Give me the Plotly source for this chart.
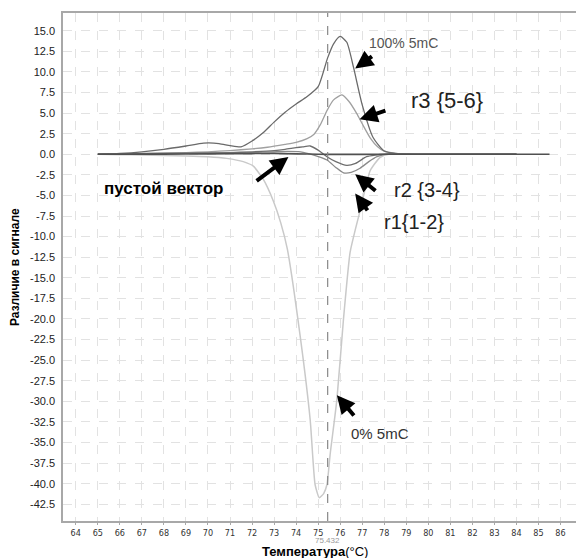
import plotly.graph_objects as go

# ---------------- data ----------------
x_100 = [65, 66, 67, 68, 69, 69.8, 70.5, 71, 71.5, 72, 72.5, 73, 73.5, 74, 74.5, 75, 75.43, 75.7, 76, 76.3, 76.6, 77, 77.5, 78, 78.5, 79, 80, 81, 82, 83, 84]
y_100 = [0, 0.1, 0.3, 0.6, 1.0, 1.35, 1.3, 1.05, 0.9, 1.6, 2.6, 3.9, 5.1, 6.1, 7.0, 8.2, 11.7, 13.4, 14.3, 13.6, 10.6, 6.0, 2.0, 0.4, 0.1, 0.05, 0, 0, 0, 0, 0]

x_r3 = [65, 67, 69, 70, 71, 72, 72.7, 73.5, 74, 74.5, 74.8, 75.1, 75.4, 75.7, 76.08, 76.4, 76.76, 77.0, 77.36, 77.7, 77.97, 78.5, 79, 80, 82, 84]
y_r3 = [0, 0.1, 0.2, 0.3, 0.45, 0.65, 0.85, 1.2, 1.45, 1.9, 2.4, 3.6, 5.3, 6.6, 7.2, 6.4, 4.9, 3.7, 2.0, 0.9, 0.4, 0.1, 0, 0, 0, 0]

x_r2a = [65, 68, 71, 72, 73, 73.5, 74, 74.3, 74.64, 75.0, 75.4, 75.8, 76.3, 76.7, 77.2, 77.6, 78, 79, 80, 82, 84]
y_r2a = [0, 0.1, 0.2, 0.3, 0.45, 0.6, 0.8, 0.9, 1.0, 0.5, -0.3, -0.9, -1.35, -1.1, -0.3, -0.1, 0, 0, 0, 0, 0]

x_r2b = [65, 68, 71, 72, 73, 73.6, 74.2, 74.8, 75.4, 75.8, 76.15, 76.5, 76.9, 77.3, 77.67, 78.3, 79, 80, 82, 84]
y_r2b = [0, 0.1, 0.15, 0.2, 0.3, 0.35, 0.3, -0.1, -0.7, -1.6, -2.25, -2.2, -1.7, -0.9, -0.3, 0.1, 0, 0, 0, 0]

x_0 = [65, 66, 67, 68, 69, 70, 70.85, 71.6, 72.06, 72.5, 72.97, 73.3, 73.6, 74.18, 74.64, 74.86, 75.05, 75.25, 75.4, 75.55, 75.85, 76.15, 76.45, 76.7, 76.9, 77.36, 77.8, 78.2, 79, 80]
y_0 = [0, -0.05, -0.1, -0.15, -0.2, -0.3, -0.5, -0.9, -1.45, -3.0, -5.7, -8.3, -11.5, -22.0, -32.3, -40.1, -41.7, -41.2, -40.1, -36.3, -29.8, -20.0, -11.9, -9.0, -6.9, -2.0, -0.4, 0, 0, 0]

x_empty = [65, 68, 70, 72, 73, 74, 75, 76, 78, 80, 82, 84, 85.5]
y_empty = [0, 0.02, 0.05, 0.08, 0.1, 0.05, 0, -0.02, 0, 0, 0, 0, 0]

marker_temp = 75.432
x_tick_vals = list(range(64, 88))
y_tick_vals = [15.0 - 2.5 * i for i in range(24)]

# ---------------- figure ----------------
fig = go.Figure()

def add_curve(xs, ys, color, width=1.3, smooth=0.6):
    fig.add_trace(go.Scatter(x=xs, y=ys, mode="lines",
                             line=dict(color=color, width=width, shape="spline", smoothing=smooth),
                             showlegend=False, hoverinfo="skip"))

add_curve(x_0, y_0, "#c9c9c9", 1.5, 0.5)
add_curve(x_r3, y_r3, "#a0a0a0", 1.3)
add_curve(x_r2b, y_r2b, "#8a8a8a", 1.3)
add_curve(x_r2a, y_r2a, "#6e6e6e", 1.3)
add_curve(x_100, y_100, "#6a6a6a", 1.3)
add_curve(x_empty, y_empty, "#505050", 1.6)

# vertical dashed marker
fig.add_shape(type="line", x0=marker_temp, x1=marker_temp, y0=0, y1=1, xref="x", yref="paper",
              line=dict(color="#888888", width=1.2, dash="dash"))

FONT = "Liberation Sans, Arial, sans-serif"

annotations = [
    dict(x=78.88, y=13.52, text="100% 5mC", font=dict(size=14, color="#555555")),
    dict(x=80.85, y=6.56, text="r3 {5-6}", font=dict(size=22, color="#222222")),
    dict(x=79.94, y=-4.37, text="r2 {3-4}", font=dict(size=20, color="#222222")),
    dict(x=79.33, y=-8.22, text="r1{1-2}", font=dict(size=20, color="#222222")),
    dict(x=67.97, y=-4.17, text="<b>пустой вектор</b>", font=dict(size=17, color="#000000")),
    dict(x=77.82, y=-33.86, text="0% 5mC", font=dict(size=15, color="#333333")),
]
for a in annotations:
    a.update(xref="x", yref="y", showarrow=False, xanchor="center", yanchor="middle")
    a["font"]["family"] = FONT
    fig.add_annotation(**a)

# arrows: (head_x, head_y, tail_x, tail_y)
arrows = [
    (76.68, 10.41, 77.51, 12.03),
    (76.88, 4.25, 78.12, 5.35),
    (73.65, -0.33, 72.14, -3.36),
    (76.68, -2.43, 77.67, -4.58),
    (76.68, -4.77, 77.29, -7.0),
    (75.85, -29.27, 76.68, -31.9),
]
for hx, hy, tx, ty in arrows:
    fig.add_annotation(x=hx, y=hy, ax=tx, ay=ty, xref="x", yref="y", axref="x", ayref="y",
                       text="", showarrow=True, arrowhead=2, arrowsize=0.9, arrowwidth=4,
                       arrowcolor="#000000", standoff=0, startstandoff=0)

# marker value label under the axis
fig.add_annotation(x=marker_temp, y=-0.0384, xref="x", yref="paper",
                   text=f"{marker_temp:.3f}", showarrow=False, xanchor="center", yanchor="middle",
                   font=dict(size=8, color="#999999", family=FONT))

# axis titles as annotations
fig.add_annotation(x=0.4846, y=-0.0591, xref="paper", yref="paper",
                   text="<b>Температура</b>(°C)", showarrow=False, xanchor="center", yanchor="middle",
                   font=dict(size=13, color="#000000", family=FONT))
fig.add_annotation(x=-0.0923, y=0.5, xref="paper", yref="paper",
                   text="<b>Различие в сигнале</b>", showarrow=False, textangle=-90,
                   xanchor="center", yanchor="middle",
                   font=dict(size=12, color="#000000", family=FONT))

fig.update_xaxes(range=[63.42, 87.02], tickvals=x_tick_vals, ticktext=[str(v) for v in x_tick_vals],
                 showgrid=True, gridcolor="#e2e2e2", griddash="dash", gridwidth=1,
                 showline=True, linecolor="#a8a8a8", linewidth=1.5, mirror=True,
                 ticks="outside", ticklen=2, tickcolor="#a8a8a8",
                 tickfont=dict(size=9, color="#333333", family="Liberation Sans Narrow, DejaVu Sans Condensed, Arial, sans-serif"),
                 zeroline=False, automargin=False)
fig.update_yaxes(range=[-44.53, 17.15], tickvals=y_tick_vals, ticktext=[f"{v:.1f}" for v in y_tick_vals],
                 showgrid=True, gridcolor="#e2e2e2", griddash="dash", gridwidth=1,
                 showline=True, linecolor="#a8a8a8", linewidth=1.5, mirror=True,
                 ticks="outside", ticklen=4, tickcolor="rgba(0,0,0,0)",
                 tickfont=dict(size=11, color="#222222", family=FONT),
                 zeroline=False, automargin=False)

# the page adds an 8px body margin, so the figure is made 8px smaller and the
# margins are reduced accordingly to keep the plot area where the reference has it
fig.update_layout(width=576, height=550, margin=dict(l=55, r=1, t=5, b=37, autoexpand=False),
                  plot_bgcolor="white", paper_bgcolor="white", showlegend=False)

fig.write_html("out.html")
